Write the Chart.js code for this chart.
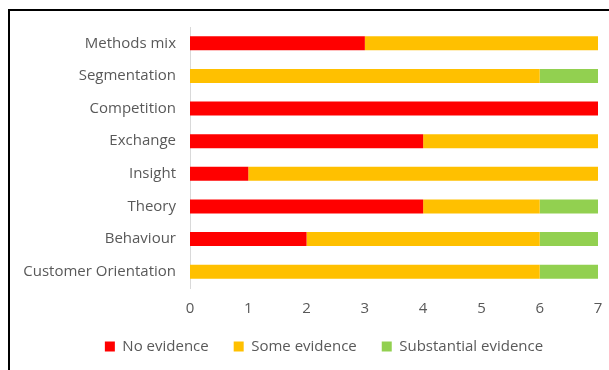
<!DOCTYPE html>
<html>
<head>
<meta charset="utf-8">
<script src="https://cdn.jsdelivr.net/npm/chart.js@4"></script>
<style>
  html, body { margin: 0; padding: 0; background: #fff; }
  #wrap { position: relative; width: 609px; height: 370px; overflow: hidden; }
  #frame { position: absolute; left: 8px; top: 9px; width: 700px; height: 500px;
           border-left: 2px solid #000; border-top: 2px solid #000; }
  canvas { position: absolute; left: 0; top: 0; }
</style>
</head>
<body>
<div id="wrap">
  <div id="frame"></div>
  <canvas id="myChart" width="609" height="370"></canvas>
</div>
<script>
const categories = [
  "Methods mix",
  "Segmentation",
  "Competition",
  "Exchange",
  "Insight",
  "Theory",
  "Behaviour",
  "Customer Orientation",
];
const noEvidence = [3, 0, 7, 4, 1, 4, 2, 0];
const someEvidence = [4, 6, 0, 3, 6, 2, 4, 6];
const substantialEvidence = [0, 1, 0, 0, 0, 1, 1, 1];
const xTicks = [0, 1, 2, 3, 4, 5, 6, 7];

const textColor = "#595959";
const fontFamily = "'Open Sans', sans-serif";

// legend sits a bit right of the canvas centre in the original
const shiftLegend = {
  id: "shiftLegend",
  afterLayout: (chart) => {
    chart.legend.left += 25;
    chart.legend.right += 25;
  },
};

const ctx = document.getElementById("myChart");
const chart = new Chart(ctx, {
  type: "bar",
  data: {
    labels: categories,
    datasets: [
      { label: "No evidence", data: noEvidence, backgroundColor: "#FF0000" },
      { label: "Some evidence", data: someEvidence, backgroundColor: "#FFC000" },
      { label: "Substantial evidence", data: substantialEvidence, backgroundColor: "#92D050" },
    ],
  },
  options: {
    indexAxis: "y",
    responsive: false,
    animation: false,
    datasets: { bar: { barPercentage: 0.86, categoryPercentage: 0.5 } },
    layout: { padding: { left: 0, right: 11, top: 27, bottom: 6 } },
    plugins: {
      tooltip: { enabled: false },
      legend: {
        position: "bottom",
        labels: {
          boxWidth: 10,
          boxHeight: 10,
          padding: 25,
          color: textColor,
          font: { family: fontFamily, size: 15 },
        },
      },
    },
    scales: {
      x: {
        stacked: true,
        min: 0,
        max: 7,
        grid: { display: false, drawTicks: false },
        border: { display: false },
        ticks: {
          stepSize: 1,
          padding: 12,
          color: textColor,
          font: { family: fontFamily, size: 15 },
          callback: (v, i) => xTicks[i],
        },
        afterFit: (scale) => {
          scale.height = 26;
          scale.paddingLeft = 0;
          scale.paddingRight = 0;
        },
      },
      y: {
        stacked: true,
        grid: { display: false, drawTicks: false },
        border: { display: true, color: "#d9d9d9", width: 1 },
        ticks: {
          padding: 14,
          color: textColor,
          font: { family: fontFamily, size: 15 },
        },
        afterFit: (scale) => { scale.width = 190; },
      },
    },
  },
  plugins: [shiftLegend],
});
</script>
</body>
</html>
